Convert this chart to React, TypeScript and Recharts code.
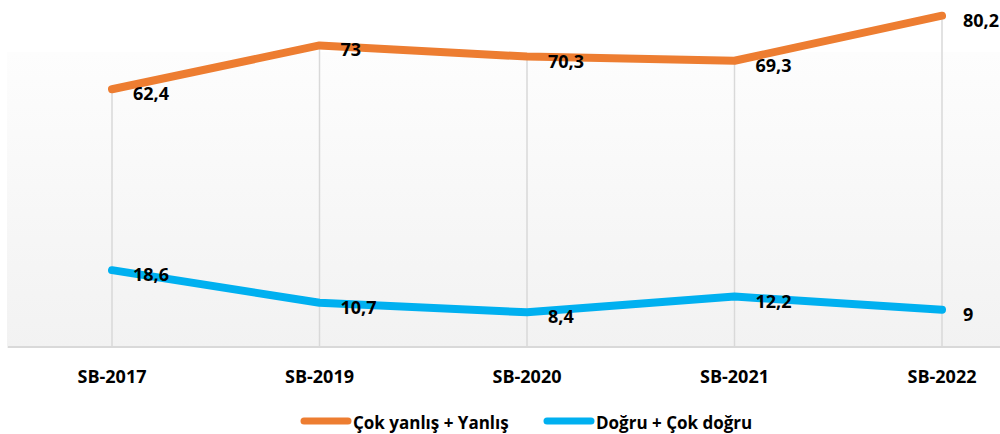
import React from "react";
import { LineChart, Line, XAxis, YAxis, LabelList, ReferenceLine } from "recharts";

const categories = ["SB-2017", "SB-2019", "SB-2020", "SB-2021", "SB-2022"];
const wrongValues = [62.4, 73, 70.3, 69.3, 80.2];
const rightValues = [18.6, 10.7, 8.4, 12.2, 9];
const seriesNames = ["Çok yanlış + Yanlış", "Doğru + Çok doğru"];
const seriesColors = ["#ED7D31", "#00B0F0"];

const data = categories.map((c, i) => ({ cat: c, wrong: wrongValues[i], right: rightValues[i] }));

const FONT = "'Open Sans', 'Noto Sans', sans-serif";

const fmt = (v: number) => String(v).replace(".", ",");

const ValueLabel = (props: any) => {
  const { x, y, value } = props;
  return (
    <text x={x + 21} y={y + 4} dominantBaseline="central" textAnchor="start" fontFamily={FONT} fontWeight={700} fontSize={18} fill="#000">
      {fmt(value)}
    </text>
  );
};

const Tick = (props: any) => {
  const { x, y, payload } = props;
  return (
    <text x={x} y={y + 29} dominantBaseline="central" textAnchor="middle" fontFamily={FONT} fontWeight={700} fontSize={18} fill="#000">
      {payload.value}
    </text>
  );
};

export default function App() {
  return (
    <div style={{ position: "absolute", left: 0, top: 0, width: 1000, height: 434, background: "#fff", overflow: "hidden" }}>
      <div
        style={{
          position: "absolute",
          left: 7,
          top: 52,
          width: 993,
          height: 296,
          background: "linear-gradient(to bottom, #fdfdfd 0%, #f2f2f2 100%)",
        }}
      />
      <div style={{ position: "absolute", left: 0, top: 0 }}>
        <LineChart width={1000} height={434} data={data} margin={{ top: 0, right: 0, bottom: 57, left: 8 }}>
          <YAxis hide domain={[0, 84]} />
          <XAxis
            dataKey="cat"
            padding={{ left: 104, right: 58 }}
            axisLine={{ stroke: "#d9d9d9", strokeWidth: 2 }}
            tickLine={false}
            tickSize={0}
            tickMargin={0}
            height={30}
            tick={<Tick />}
            interval={0}
          />
          {data.map((d) => (
            <ReferenceLine
              key={d.cat}
              segment={[
                { x: d.cat, y: 0 },
                { x: d.cat, y: d.wrong },
              ]}
              stroke="#d9d9d9"
              strokeWidth={1.5}
              ifOverflow="visible"
            />
          ))}
          <Line
            dataKey="wrong"
            name={seriesNames[0]}
            stroke={seriesColors[0]}
            strokeWidth={8}
            strokeLinecap="round"
            strokeLinejoin="round"
            dot={false}
            activeDot={false}
            isAnimationActive={false}
            type="linear"
          >
            <LabelList dataKey="wrong" content={<ValueLabel />} />
          </Line>
          <Line
            dataKey="right"
            name={seriesNames[1]}
            stroke={seriesColors[1]}
            strokeWidth={8}
            strokeLinecap="round"
            strokeLinejoin="round"
            dot={false}
            activeDot={false}
            isAnimationActive={false}
            type="linear"
          >
            <LabelList dataKey="right" content={<ValueLabel />} />
          </Line>
        </LineChart>
      </div>
      <svg style={{ position: "absolute", left: 0, top: 400 }} width={1000} height={34}>
        <line x1={304} y1={21} x2={348} y2={21} stroke={seriesColors[0]} strokeWidth={7} strokeLinecap="round" />
        <text x={353} y={22} dominantBaseline="central" fontFamily={FONT} fontWeight={700} fontSize={17} fill="#000">
          {seriesNames[0]}
        </text>
        <line x1={547} y1={21} x2={591} y2={21} stroke={seriesColors[1]} strokeWidth={7} strokeLinecap="round" />
        <text x={596} y={22} dominantBaseline="central" fontFamily={FONT} fontWeight={700} fontSize={17} fill="#000">
          {seriesNames[1]}
        </text>
      </svg>
    </div>
  );
}
